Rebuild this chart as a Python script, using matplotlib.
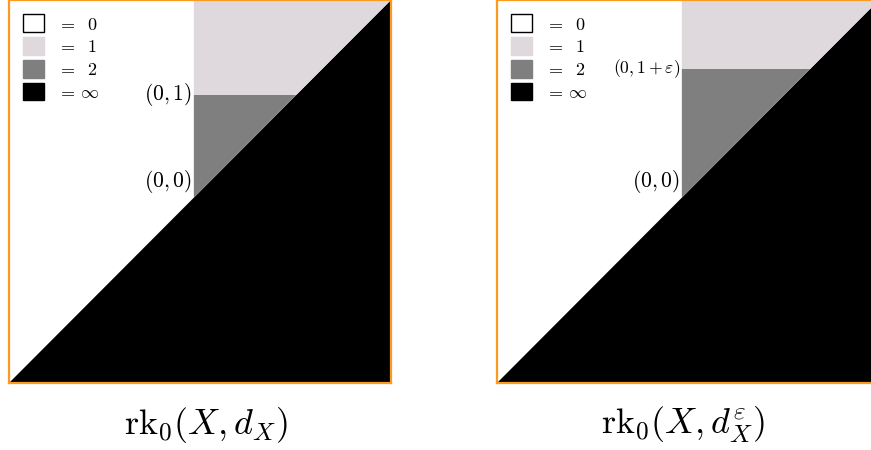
"""
Two rank-function diagrams side by side: rk_0(X, d_X) and rk_0(X, d_X^eps).
Regions are shaded by rank value: 0 (white), 1, 2, infinity (black).
"""

import matplotlib
matplotlib.use("Agg")
import matplotlib.pyplot as plt
from matplotlib.patches import Patch

plt.rcParams["mathtext.fontset"] = "cm"
plt.rcParams["font.family"] = ["DejaVu Serif"]

# data
rank_labels = ["0", "1", "2", r"\infty"]
rank_colors = ["white", "#dfd9de", "#7f7f7f", "black"]
axis_lo, axis_hi = -1.8, 1.92
birth = 0.0
eps = 0.25
death_levels = [1.0, 1.0 + eps]
level_labels = [r"$(0,1)$", r"$(0,1+\varepsilon)$"]
origin_label = r"$(0,0)$"
titles = [r"$\mathrm{rk}_0(X,d_X)$", r"$\mathrm{rk}_0(X,d_X^{\varepsilon})$"]

ORANGE = "#fa9a1e"
W, H = 871, 450


def draw_panel(ax, level, level_label, level_fs):
    lo, hi = axis_lo, axis_hi
    ax.set_xlim(lo, hi)
    ax.set_ylim(lo, hi)
    # infinity below the diagonal
    ax.fill([lo, hi, hi], [lo, hi, lo], color=rank_colors[3], lw=0)
    # rank 2 between the diagonal and the level
    ax.fill([birth, level, birth], [birth, level, level], color=rank_colors[2], lw=0)
    # rank 1 above the level
    ax.fill([birth, level, hi, birth], [level, level, hi, hi], color=rank_colors[1], lw=0)

    ax.text(birth - 0.02, level, level_label, ha="right", va="center",
            fontsize=level_fs)
    ax.text(birth - 0.02, birth + 0.03, origin_label, ha="right", va="bottom",
            fontsize=15.5)

    handles = [Patch(facecolor=c, edgecolor="black" if c == "white" else c, lw=1)
               for c in rank_colors]
    labels = [r"$=\ \ %s$" % r if r != r"\infty" else r"$=\,%s$" % r for r in rank_labels]
    ax.legend(handles, labels, loc="upper left", frameon=False, fontsize=13,
              handlelength=1.15, handleheight=1.15, labelspacing=0.2,
              handletextpad=0.7, borderaxespad=0.4)

    ax.set_xticks([])
    ax.set_yticks([])
    for s in ax.spines.values():
        s.set_color(ORANGE)
        s.set_linewidth(1.6)


fig = plt.figure(figsize=(W / 100, H / 100), dpi=100)
ax_l = fig.add_axes([9 / W, (H - 383) / H, 382 / W, 383 / H])
ax_r = fig.add_axes([497 / W, (H - 383) / H, 382 / W, 383 / H])

draw_panel(ax_l, death_levels[0], level_labels[0], 15.5)
draw_panel(ax_r, death_levels[1], level_labels[1], 12.6)

fig.text(206 / W, 1 - 425 / H, titles[0], ha="center", va="center", fontsize=26)
fig.text(683 / W, 1 - 425 / H, titles[1], ha="center", va="center", fontsize=26)

fig.savefig("out.png", dpi=100)
